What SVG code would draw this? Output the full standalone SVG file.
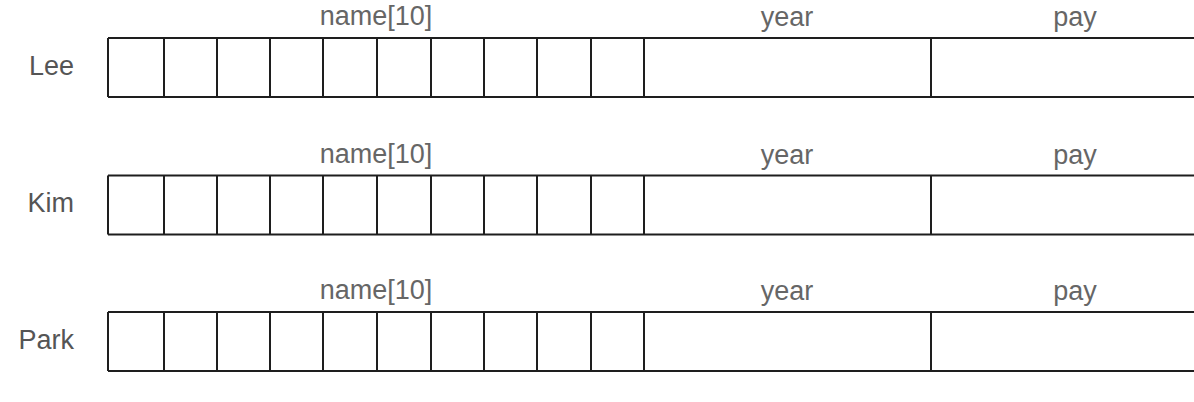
<svg xmlns="http://www.w3.org/2000/svg" width="1194" height="402" viewBox="0 0 1194 402">
<style>
.lbl{font-family:"Liberation Sans",Arial,sans-serif;font-size:27px;fill:#555}
.hdr{font-family:"Liberation Sans",Arial,sans-serif;font-size:27px;fill:#666;text-anchor:middle}
.ln{stroke:#1e1e1e;stroke-width:2;fill:none}
</style>
<defs>
<g id="row">
<path class="ln" d="M108,0 H1196 M108,59 H1196 M108,0 V59 M164,0 V59 M217,0 V59 M270,0 V59 M323,0 V59 M377,0 V59 M431,0 V59 M484,0 V59 M537,0 V59 M591,0 V59 M644,0 V59 M931,0 V59"/>
<text class="hdr" x="376" y="-13">name[10]</text>
<text class="hdr" x="787" y="-12">year</text>
<text class="hdr" x="1075" y="-12">pay</text>
</g>
</defs>
<rect width="1194" height="402" fill="#ffffff"/>
<g id="lee">
<use href="#row" x="0" y="38"/>
<text class="lbl" x="74" y="75" text-anchor="end">Lee</text>
</g>
<g id="kim">
<use href="#row" x="0" y="175.5"/>
<text class="lbl" x="74" y="212" text-anchor="end">Kim</text>
</g>
<g id="park">
<use href="#row" x="0" y="312"/>
<text class="lbl" x="74" y="349" text-anchor="end">Park</text>
</g>
<g id="connectors"></g>
</svg>
